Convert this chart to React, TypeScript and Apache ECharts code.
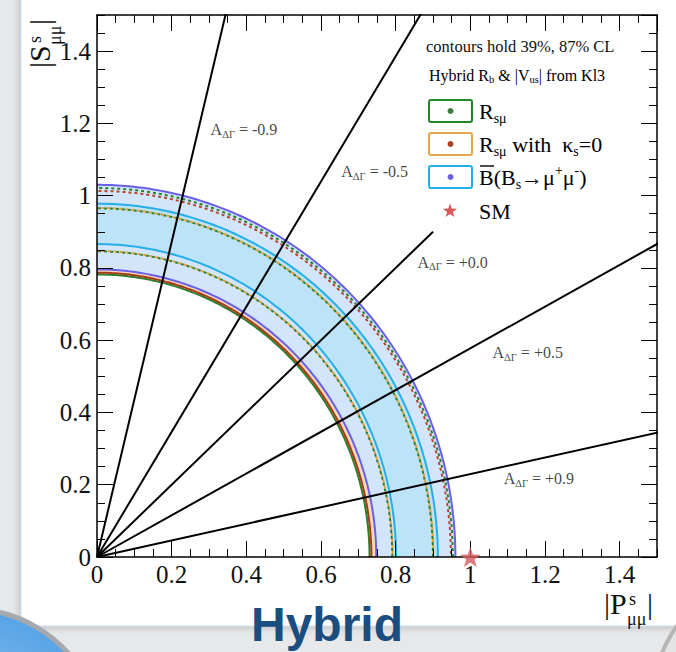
import React, { useEffect, useRef } from "react";
import * as echarts from "echarts";

// Axis range shared by |P| and |S|
const AXIS_MAX = 1.5;
const MAJOR_STEP = 0.2;
const MINOR_STEP = 0.05;

// A_ΔΓ benchmark lines from the origin
const A_DG_VALUES = [-0.9, -0.5, 0.0, 0.5, 0.9];
const A_DG_TEXT = ["-0.9", "-0.5", "+0.0", "+0.5", "+0.9"];
const A_DG_REACH = [3, 3, 1.273, 3, 3];
const A_DG_LABEL_X = [0.303, 0.653, 0.857, 1.058, 1.088];
const A_DG_LABEL_Y = [1.182, 1.066, 0.816, 0.565, 0.216];

// Contours, given as semi-axes [along |P|, along |S|]
const BR_87_OUTER = [0.96, 1.03];
const BR_87_INNER = [0.748, 0.796];
const BR_39_OUTER = [0.913, 0.978];
const BR_39_INNER = [0.801, 0.866];
const RSMU_87_INNER = [0.73, 0.782];
const RSMU_87_OUTER = [0.953, 1.021];
const RSMU_39_INNER = [0.791, 0.846];
const RSMU_39_OUTER = [0.9, 0.965];
const RSMU_K0_87_INNER = [0.735, 0.787];
const RSMU_K0_87_OUTER = [0.948, 1.013];
const RSMU_K0_39_INNER = [0.792, 0.847];
const RSMU_K0_39_OUTER = [0.901, 0.966];

// Standard Model point
const SM_POINT = [1, 0];

const SERIF = "Liberation Serif, Times New Roman, Times, serif";
const SANS = "Liberation Sans, Arial, Helvetica, sans-serif";

const PURPLE = "#6a5fe8";
const CYAN = "#25aee8";
const GREEN = "#2d7d2d";
const BROWN = "#a63c14";
const ORANGE = "#d9a23c";
const RED = "#b8452a";
const FILL87 = "#d2e5fb";
const FILL39 = "#bde3f8";
const PEACH = "#fbd9bc";
const STAR = "#d65a5e";

const ARC_STEPS = 160;

function arcPoints(api: any, a: number, b: number, reverse = false) {
  const pts: number[][] = [];
  for (let i = 0; i <= ARC_STEPS; i++) {
    const t = ((Math.PI / 2) * i) / ARC_STEPS;
    pts.push(api.coord([a * Math.cos(t), b * Math.sin(t)]));
  }
  return reverse ? pts.reverse() : pts;
}

function bandSeries(name: string, outer: number[], inner: number[], color: string, z: number) {
  return {
    type: "custom",
    name,
    coordinateSystem: "cartesian2d",
    silent: true,
    clip: true,
    z,
    data: [[outer[0], outer[1], inner[0], inner[1]]],
    encode: { x: 0, y: 1 },
    renderItem: (_p: any, api: any) => ({
      type: "polygon",
      shape: {
        points: [
          ...arcPoints(api, api.value(0), api.value(1)),
          ...arcPoints(api, api.value(2), api.value(3), true),
        ],
      },
      style: { fill: color, stroke: "none" },
    }),
  };
}

function contourSeries(
  name: string,
  axes: number[],
  color: string,
  width: number,
  z: number,
  dash?: number[],
  dashOffset = 0
) {
  return {
    type: "custom",
    name,
    coordinateSystem: "cartesian2d",
    silent: true,
    clip: true,
    z,
    data: [[axes[0], axes[1]]],
    encode: { x: 0, y: 1 },
    renderItem: (_p: any, api: any) => ({
      type: "polyline",
      shape: { points: arcPoints(api, api.value(0), api.value(1)) },
      style: {
        stroke: color,
        fill: "none",
        lineWidth: width,
        lineDash: dash || null,
        lineDashOffset: dashOffset,
      },
    }),
  };
}

function starPoints(cx: number, cy: number, R: number, r: number) {
  const pts: number[][] = [];
  for (let i = 0; i < 10; i++) {
    const ang = -Math.PI / 2 + (i * Math.PI) / 5;
    const rad = i % 2 === 0 ? R : r;
    pts.push([cx + rad * Math.cos(ang), cy + rad * Math.sin(ang)]);
  }
  return pts;
}

const STAR_PATH =
  "path://" +
  starPoints(10, 10, 10, 4)
    .map((p, i) => `${i === 0 ? "M" : "L"}${p[0].toFixed(3)} ${p[1].toFixed(3)}`)
    .join(" ") +
  " Z";

const legendRich = {
  m: { fontFamily: SERIF, fontSize: 22, color: "#111", lineHeight: 28, verticalAlign: "middle" },
  sb: { fontFamily: SERIF, fontSize: 14, color: "#111", lineHeight: 14, verticalAlign: "bottom" },
  sp: { fontFamily: SERIF, fontSize: 14, color: "#111", lineHeight: 14, verticalAlign: "top" },
};

const smallRich = {
  t: { fontFamily: SERIF, fontSize: 16, color: "#111", lineHeight: 20, verticalAlign: "middle" },
  sb: { fontFamily: SERIF, fontSize: 10.5, color: "#111", lineHeight: 10, verticalAlign: "bottom" },
};

function legendText(x: number, y: number, text: string) {
  return {
    type: "text",
    x,
    y,
    z: 30,
    silent: true,
    style: {
      text,
      rich: legendRich,
      fontFamily: SERIF,
      align: "left",
      verticalAlign: "middle",
      textAlign: "left",
      textVerticalAlign: "middle",
    },
  };
}

function legendBox(y: number, border: string, dot: string) {
  return [
    {
      type: "rect",
      z: 30,
      silent: true,
      shape: { x: 429, y, width: 43, height: 22, r: 2 },
      style: { fill: "#fff", stroke: border, lineWidth: 2 },
    },
    {
      type: "circle",
      z: 31,
      silent: true,
      shape: { cx: 450.5, cy: y + 11, r: 3 },
      style: { fill: dot },
    },
  ];
}

// |X^s_μμ| built from separate pieces so the super- and subscript stack
function mathTitle(letter: string, x: number, y: number, rotation: number) {
  const big = { fontFamily: SERIF, fontSize: 30, fill: "#111" };
  const small = { fontFamily: SERIF, fontSize: 18, fill: "#111" };
  return {
    type: "group",
    x,
    y,
    rotation,
    z: 30,
    silent: true,
    children: [
      { type: "text", x: 0, y: 0, style: { ...big, text: "|" + letter, verticalAlign: "bottom", textVerticalAlign: "bottom" } },
      { type: "text", x: 25, y: -10, style: { ...small, text: "s", verticalAlign: "bottom", textVerticalAlign: "bottom" } },
      { type: "text", x: 23, y: 10, style: { ...small, text: "μμ", verticalAlign: "bottom", textVerticalAlign: "bottom" } },
      { type: "text", x: 43, y: 0, style: { ...big, text: "|", verticalAlign: "bottom", textVerticalAlign: "bottom" } },
    ],
  };
}

function axisPair(kind: "x" | "y", position: string, withLabels: boolean) {
  const common = {
    type: "value",
    min: 0,
    max: AXIS_MAX,
    position,
    z: 6,
    splitLine: { show: false },
  };
  const major = {
    ...common,
    interval: MAJOR_STEP,
    axisLine: { show: true, onZero: false, lineStyle: { color: "#000", width: 1.5 } },
    axisTick: { show: true, inside: true, length: 16, lineStyle: { color: "#000", width: 1 } },
    axisLabel: withLabels
      ? {
          show: true,
          showMaxLabel: false,
          fontFamily: SERIF,
          fontSize: 25,
          color: "#111",
          margin: kind === "x" ? 5 : 6,
        }
      : { show: false },
  };
  const minor = {
    ...common,
    interval: MINOR_STEP,
    axisLine: { show: false, onZero: false },
    axisTick: { show: true, inside: true, length: 8, lineStyle: { color: "#000", width: 1 } },
    axisLabel: { show: false },
  };
  return [major, minor];
}

export default function App() {
  const ref = useRef<HTMLDivElement>(null);

  useEffect(() => {
    document.body.style.margin = "0";
    if (!ref.current) return;
    const chart = echarts.init(ref.current, undefined, { renderer: "svg" });

    const lineSeries = A_DG_VALUES.map((a, i) => {
      const phi = 0.5 * Math.acos(a);
      const r = A_DG_REACH[i];
      return {
        type: "line",
        name: `A_DG ${A_DG_TEXT[i]}`,
        xAxisIndex: 0,
        yAxisIndex: 0,
        z: 8,
        symbol: "none",
        silent: true,
        clip: true,
        lineStyle: { color: "#000", width: 2 },
        data: [
          [0, 0],
          [r * Math.cos(phi), r * Math.sin(phi)],
        ],
      };
    });

    const option: any = {
      animation: false,
      backgroundColor: "#e7e8ea",
      textStyle: { fontFamily: SERIF },
      grid: { left: 97, top: 15, width: 560, height: 542, containLabel: false },
      xAxis: [...axisPair("x", "bottom", true), ...axisPair("x", "top", false)],
      yAxis: [...axisPair("y", "left", true), ...axisPair("y", "right", false)],
      series: [
        bandSeries("Rsmu k0 band", RSMU_K0_87_OUTER, RSMU_K0_87_INNER, PEACH, 2),
        bandSeries("B 87", BR_87_OUTER, BR_87_INNER, FILL87, 2),
        bandSeries("B 39", BR_39_OUTER, BR_39_INNER, FILL39, 2),
        contourSeries("Rsmu 87 inner", RSMU_87_INNER, GREEN, 2, 3),
        contourSeries("Rsmu k0 87 inner", RSMU_K0_87_INNER, BROWN, 2, 3),
        contourSeries("B 87 inner", BR_87_INNER, PURPLE, 2, 3),
        contourSeries("B 87 outer", BR_87_OUTER, PURPLE, 2, 3),
        contourSeries("B 39 inner", BR_39_INNER, CYAN, 2, 3),
        contourSeries("B 39 outer", BR_39_OUTER, CYAN, 2, 3),
        contourSeries("Rsmu 39 inner", RSMU_39_INNER, GREEN, 2, 4, [3, 3], 0),
        contourSeries("Rsmu k0 39 inner", RSMU_K0_39_INNER, ORANGE, 2, 4, [3, 3], 3),
        contourSeries("Rsmu 39 outer", RSMU_39_OUTER, GREEN, 2, 4, [3, 3], 0),
        contourSeries("Rsmu k0 39 outer", RSMU_K0_39_OUTER, ORANGE, 2, 4, [3, 3], 3),
        contourSeries("Rsmu 87 outer", RSMU_87_OUTER, GREEN, 2, 4, [3, 3], 0),
        contourSeries("Rsmu k0 87 outer", RSMU_K0_87_OUTER, RED, 2, 4, [3, 3], 3),
        ...lineSeries,
        {
          type: "scatter",
          name: "A_DG labels",
          xAxisIndex: 0,
          yAxisIndex: 0,
          z: 9,
          silent: true,
          symbolSize: 1,
          itemStyle: { color: "rgba(0,0,0,0)" },
          data: A_DG_LABEL_X.map((x, i) => [x, A_DG_LABEL_Y[i]]),
          label: {
            show: true,
            position: "right",
            distance: 0,
            fontFamily: SERIF,
            formatter: (p: any) => `{t|A}{sb|ΔΓ}{t| = ${A_DG_TEXT[p.dataIndex]}}`,
            rich: smallRich,
          },
        },
        {
          type: "scatter",
          name: "SM",
          xAxisIndex: 0,
          yAxisIndex: 0,
          z: 20,
          clip: false,
          silent: true,
          symbol: STAR_PATH,
          symbolSize: 21,
          symbolKeepAspect: true,
          itemStyle: { color: STAR },
          data: [SM_POINT],
        },
      ],
      graphic: {
        elements: [
          // slide backdrop
          {
            type: "rect",
            z: -20,
            silent: true,
            shape: { x: 21, y: -20, width: 680, height: 646 },
            style: { fill: "#fff", stroke: "#c9dcef", lineWidth: 1, shadowBlur: 8, shadowColor: "rgba(0,0,0,0.25)" },
          },
          {
            type: "circle",
            z: -15,
            silent: true,
            shape: { cx: -30, cy: 740, r: 131 },
            style: {
              fill: new echarts.graphic.RadialGradient(0.5, 0.5, 0.6, [
                { offset: 0, color: "#8ec6f4" },
                { offset: 1, color: "#4d9de3" },
              ]),
              stroke: "#a5a9ad",
              lineWidth: 5,
            },
          },
          {
            type: "circle",
            z: -15,
            silent: true,
            shape: { cx: 780, cy: 700, r: 127 },
            style: { fill: "#e4e4e4", stroke: "#b5b5b5", lineWidth: 4 },
          },
          {
            type: "text",
            x: 327,
            y: 648,
            z: -10,
            silent: true,
            style: {
              text: "Hybrid",
              fontFamily: SANS,
              fontWeight: "bold",
              fontSize: 48,
              fill: "#1b4e7f",
              align: "center",
              textAlign: "center",
              verticalAlign: "bottom",
              textVerticalAlign: "bottom",
            },
          },
          // legend
          {
            type: "text",
            x: 426,
            y: 46,
            z: 30,
            silent: true,
            style: {
              text: "contours hold 39%, 87% CL",
              fontFamily: SERIF,
              fontSize: 16.5,
              fill: "#111",
              align: "left",
              verticalAlign: "middle",
              textAlign: "left",
              textVerticalAlign: "middle",
            },
          },
          {
            type: "text",
            x: 429,
            y: 75,
            z: 30,
            silent: true,
            style: {
              text: "{t|Hybrid R}{sb|b}{t| & |V}{sb|us}{t|| from Kl3}",
              rich: smallRich,
              fontFamily: SERIF,
              align: "left",
              verticalAlign: "middle",
              textAlign: "left",
              textVerticalAlign: "middle",
            },
          },
          ...legendBox(100, "#22862a", "#3b7b3b"),
          ...legendBox(133, "#e0a84a", "#a8401a"),
          ...legendBox(166, "#22b0ea", "#6a5fe0"),
          legendText(479, 111, "{m|R}{sb|sμ}"),
          legendText(479, 144, "{m|R}{sb|sμ}{m| with  κ}{sb|s}{m|=0}"),
          legendText(479, 177, "{m|B(B}{sb|s}{m|→μ}{sp|+}{m|μ}{sp|-}{m|)}"),
          {
            type: "line",
            z: 31,
            silent: true,
            shape: { x1: 480, y1: 166, x2: 494, y2: 166 },
            style: { stroke: "#111", lineWidth: 1.5 },
          },
          {
            type: "polygon",
            z: 31,
            silent: true,
            shape: { points: starPoints(450, 211, 7.5, 3) },
            style: { fill: STAR },
          },
          legendText(479, 211, "{m|SM}"),
          // axis titles
          mathTitle("P", 604, 618, 0),
          mathTitle("S", 54, 68, Math.PI / 2),
        ],
      },
    };

    chart.setOption(option);
    return () => chart.dispose();
  }, []);

  return <div ref={ref} style={{ width: 676, height: 652 }} />;
}
